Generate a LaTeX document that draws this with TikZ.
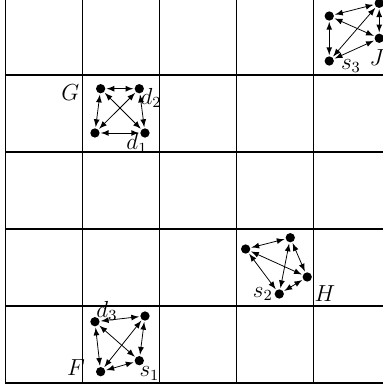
\documentclass[tikz,border=0pt]{standalone}
\usetikzlibrary{arrows}

\tikzset{
  dot/.style={circle, fill, inner sep=0pt, minimum size=4.8pt},
  lbl/.style={font=\large, inner sep=0pt},
  arr/.style={<->, >=latex, shorten <=0.5pt, shorten >=0.5pt},
  gridline/.style={line width=0.7pt}
}

\begin{document}
\begin{tikzpicture}[x=1.4cm, y=1.4cm]
    % Frame of the picture
    \useasboundingbox (-0.071,-0.052) rectangle (4.903,4.974);
    \clip (-0.071,-0.052) rectangle (4.903,4.974);

    % Grid
    \foreach \i in {0,...,4} {
        \draw[gridline] (\i,0) -- (\i,5);
        \draw[gridline] (0,\i) -- (5,\i);
    }

    % Cluster G
    \node[dot] (g1) at (1.236, 3.822) {};
    \node[dot] (g2) at (1.738, 3.822) {};
    \node[dot] (g3) at (1.162, 3.247) {};
    \node[dot] (g4) at (1.812, 3.247) {};
    \node[lbl] (gG) at (0.844, 3.766) {$G$};
    \node[lbl] (gd) at (1.890, 3.700) {$d_2$};
    \node[lbl] (gs) at (1.708, 3.113) {$d_1$};

    % Cluster H
    \node[dot] (h1) at (3.119, 1.740) {};
    \node[dot] (h2) at (3.699, 1.887) {};
    \node[dot] (h3) at (3.919, 1.377) {};
    \node[dot] (h4) at (3.556, 1.156) {};
    \node[lbl] (hs) at (3.342, 1.153) {$s_2$};
    \node[lbl] (hH) at (4.149, 1.156) {$H$};

    % Cluster F
    \node[dot] (f1) at (1.162, 0.796) {};
    \node[dot] (f2) at (1.812, 0.870) {};
    \node[dot] (f3) at (1.738, 0.290) {};
    \node[dot] (f4) at (1.236, 0.147) {};
    \node[lbl] (fd) at (1.318, 0.938) {$d_3$};
    \node[lbl] (fF) at (0.916, 0.201) {$F$};
    \node[lbl] (fs) at (1.870, 0.126) {$s_1$};

    % Cluster J
    \node[dot] (j1) at (4.205, 4.766) {};
    \node[dot] (j2) at (4.854, 4.931) {};
    \node[dot] (j3) at (4.854, 4.477) {};
    \node[dot] (j4) at (4.205, 4.182) {};
    \node[lbl] (js) at (4.487, 4.117) {$s_3$};
    \node[lbl] (jJ) at (4.825, 4.227) {$J$};

    % Every pair in a cluster
    \foreach \c in {g,h,f,j}
        \foreach \a/\b in {1/2,1/3,1/4,2/3,2/4,3/4}
            \draw[arr] (\c\a) -- (\c\b);
\end{tikzpicture}
\end{document}
